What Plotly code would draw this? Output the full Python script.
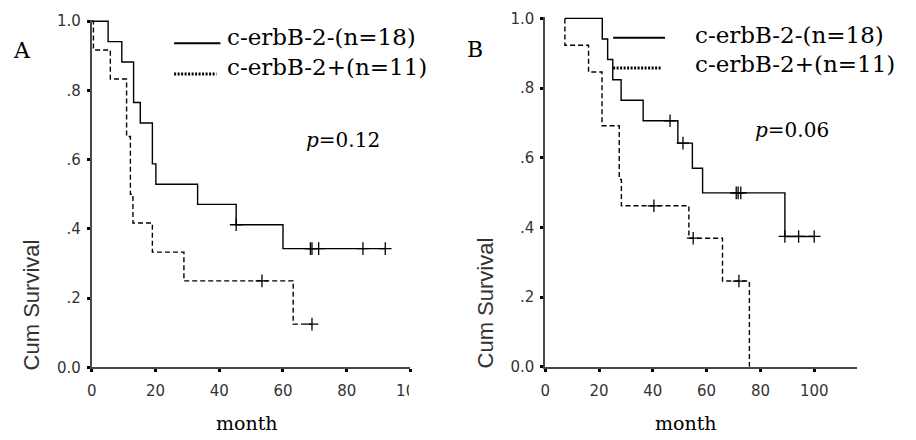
import plotly.graph_objects as go

# Kaplan-Meier estimates: event times (months) and cumulative survival after each step
A_neg_time = [0.0, 5.1, 9.4, 13.1, 15.2, 19.0, 20.1, 33.2, 45.3, 60.0]
A_neg_surv = [1.0, 0.941, 0.882, 0.765, 0.706, 0.588, 0.529, 0.471, 0.412, 0.343]
A_neg_cens = [45.3, 68.6, 69.1, 71.2, 85.1, 92.1]

A_pos_time = [0.0, 0.5, 5.8, 10.9, 12.1, 12.9, 19.0, 28.9, 63.2]
A_pos_surv = [1.0, 0.917, 0.833, 0.667, 0.500, 0.417, 0.333, 0.250, 0.125]
A_pos_cens = [53.4, 69.1]

B_neg_time = [7.3, 21.2, 23.2, 25.1, 28.2, 36.4, 49.3, 54.7, 58.5, 89.1]
B_neg_surv = [1.0, 0.941, 0.882, 0.824, 0.765, 0.706, 0.642, 0.570, 0.499, 0.374]
B_neg_cens = [46.4, 51.2, 71.0, 71.7, 72.7, 89.1, 94.2, 100.0]

B_pos_time = [7.3, 7.3, 16.1, 21.1, 27.5, 28.3, 53.4, 65.9, 75.9]
B_pos_surv = [1.0, 0.923, 0.846, 0.692, 0.538, 0.462, 0.369, 0.246, 0.0]
B_pos_cens = [40.4, 55.0, 72.0]

legend_labels = ["c-erbB-2-(n=18)", "c-erbB-2+(n=11)"]
panel_labels = ["A", "B"]
p_values = ["0.12", "0.06"]
y_tickvals = [0.0, 0.2, 0.4, 0.6, 0.8, 1.0]
y_ticktext = ["0.0", ".2", ".4", ".6", ".8", "1.0"]
A_xticks = [0, 20, 40, 60, 80, 100]
B_xticks = [0, 20, 40, 60, 80, 100]

W, H = 916, 440
SERIF = "DejaVu Serif"
SANS = "DejaVu Sans"
AXC = "#474747"


def px(x):
    return x / W


def py(y):
    return 1 - y / H


def step_xy(times, surv, last_time):
    return list(times) + [last_time], list(surv) + [surv[-1]]


def surv_at(times, surv, t):
    s = surv[0]
    for ti, si in zip(times, surv):
        if ti <= t:
            s = si
    return s


fig = go.Figure()


def add_curve(times, surv, cens, dash, xa, ya):
    end = max([times[-1]] + cens)
    xs, ys = step_xy(times, surv, end)
    fig.add_trace(go.Scatter(
        x=xs, y=ys, mode="lines", line_shape="hv",
        line=dict(color="black", width=1.4, dash=dash),
        xaxis=xa, yaxis=ya, showlegend=False, hoverinfo="skip"))
    fig.add_trace(go.Scatter(
        x=cens, y=[surv_at(times, surv, c) for c in cens], mode="markers",
        marker=dict(symbol="cross-thin", size=9, line=dict(color="black", width=1.3)),
        xaxis=xa, yaxis=ya, showlegend=False, hoverinfo="skip"))


add_curve(A_neg_time, A_neg_surv, A_neg_cens, "solid", "x", "y")
add_curve(A_pos_time, A_pos_surv, A_pos_cens, "5px,3px", "x", "y")
add_curve(B_neg_time, B_neg_surv, B_neg_cens, "solid", "x2", "y2")
add_curve(B_pos_time, B_pos_surv, B_pos_cens, "5px,3px", "x2", "y2")

tickfont = dict(family=SANS, size=15, color="#333333")
common = dict(showline=True, linecolor=AXC, linewidth=2, ticks="outside", ticklen=3,
              tickwidth=3, tickcolor="black", showgrid=False, zeroline=False,
              tickfont=tickfont)
xcommon = dict(common, ticklabelstandoff=6)
ycommon = dict(common, tickvals=y_tickvals, ticktext=y_ticktext, range=[0, 1.004],
               ticklabelstandoff=3)

fig.update_layout(
    width=W, height=H, margin=dict(l=0, r=0, t=0, b=0),
    paper_bgcolor="white", plot_bgcolor="white", showlegend=False,
    xaxis=dict(xcommon, domain=[px(88.7), px(414.0)], range=[0, 100],
               tickvals=A_xticks, anchor="y"),
    yaxis=dict(ycommon, domain=[py(374.0), py(13.3)], anchor="x"),
    xaxis2=dict(xcommon, domain=[px(551.7), px(870.3)], range=[0, 116],
                tickvals=B_xticks, anchor="y2"),
    yaxis2=dict(ycommon, domain=[py(373.3), py(10.4)], anchor="x2"),
)

shapes = []
annotations = []

# hide the part of the last x tick label that runs past panel A's axis
shapes.append(dict(type="rect", xref="paper", yref="paper", layer="above",
                   x0=px(412.5), x1=px(440), y0=py(405), y1=py(379),
                   fillcolor="white", line=dict(width=0)))

# legend keys and labels
legend_geo = [
    # (line x0, x1, solid y, dotted y, text x, row1 y, row2 y)
    (172.7, 220.0, 37.5, 69.5, 225.0, 31.0, 62.5),
    (621.0, 674.0, 32.0, 63.3, 702.7, 29.0, 59.5),
]
for (x0, x1, ys, yd, tx, r1, r2) in legend_geo:
    shapes.append(dict(type="line", xref="paper", yref="paper",
                       x0=px(x0), x1=px(x1), y0=py(ys), y1=py(ys),
                       line=dict(color="black", width=2)))
    shapes.append(dict(type="line", xref="paper", yref="paper",
                       x0=px(x0), x1=px(x1 - 4), y0=py(yd), y1=py(yd),
                       line=dict(color="black", width=3, dash="2px,1.5px")))
    for txt, ty in zip(legend_labels, (r1, r2)):
        annotations.append(dict(text=txt, xref="paper", yref="paper", x=px(tx), y=py(ty),
                                xanchor="left", yanchor="middle", showarrow=False,
                                font=dict(family=SERIF, size=23, color="black")))

# panel letters
for lab, (lx, ly) in zip(panel_labels, [(17.5, 45.0), (479.5, 44.5)]):
    annotations.append(dict(text=lab, xref="paper", yref="paper", x=px(lx), y=py(ly),
                            xanchor="center", yanchor="middle", showarrow=False,
                            font=dict(family=SERIF, size=22, color="black")))

# log-rank p values
for pv, (lx, ly) in zip(p_values, [(305.0, 138.0), (764.0, 128.0)]):
    annotations.append(dict(text="<i>p</i>=" + pv, xref="paper", yref="paper",
                            x=px(lx), y=py(ly), xanchor="left", yanchor="middle",
                            showarrow=False,
                            font=dict(family=SERIF, size=20, color="black")))

# axis titles
for cx in (247.5, 695.5):
    annotations.append(dict(text="month", xref="paper", yref="paper", x=px(cx), y=py(432.0),
                            xanchor="center", yanchor="middle", showarrow=False,
                            font=dict(family=SERIF, size=19, color="black")))
for cx, cy in ((27.5, 308.7), (490.3, 307.5)):
    annotations.append(dict(text="Cum Survival", xref="paper", yref="paper", x=px(cx),
                            y=py(cy), xanchor="center", yanchor="middle", textangle=-90,
                            showarrow=False,
                            font=dict(family="Liberation Sans", size=22, color="#333333")))

fig.update_layout(shapes=shapes, annotations=annotations)
fig.write_html("out.html")
